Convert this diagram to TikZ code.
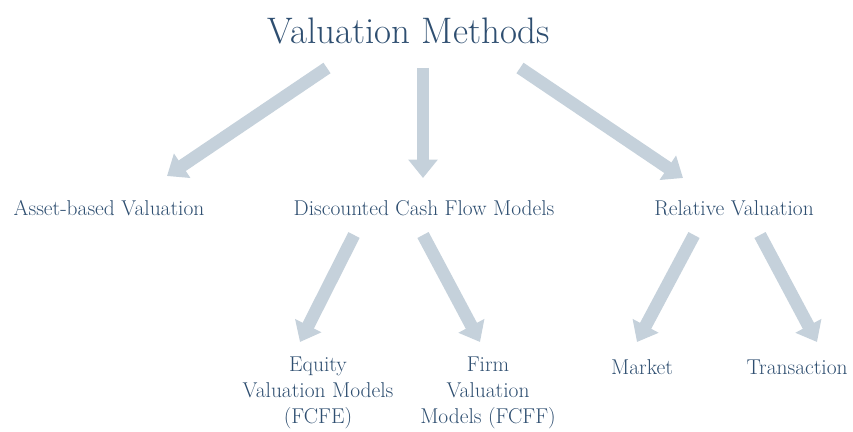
\documentclass[tikz,border=0pt]{standalone}
\usepackage{tikz}
\usepackage{xcolor}
\usetikzlibrary{arrows.meta,positioning}
\definecolor{navyink} {HTML}{2E4E70}
\definecolor{arrgrey} {HTML}{C5D1DB}
\tikzset{
  titletext/.style ={text=navyink, font=\fontsize{31.5}{36}\selectfont, inner sep=2pt},
  labeltext/.style ={text=navyink, font=\fontsize{18.3}{22}\selectfont,
                     align=center, inner sep=2pt},
  bigarr/.style    ={-{Triangle[length=0.55cm,width=0.85cm]}, line width=0.38cm,
                     color=arrgrey},
}
\begin{document}
\begin{tikzpicture}[x=0.03cm,y=-0.03cm]
  \useasboundingbox (0,0) rectangle (853,432);
  % labels
  \node[titletext] (title) at (409,31) {Valuation Methods};
  \node[labeltext] (asset) at (109,208) {Asset-based Valuation};
  \node[labeltext] (dcf)   at (424,208) {Discounted Cash Flow Models};
  \node[labeltext] (rel)   at (734,208) {Relative Valuation};
  \node[labeltext] (fcfe)  at (318,393) {Equity\\Valuation Models\\(FCFE)};
  \node[labeltext] (fcff)  at (488,393) {Firm\\Valuation\\Models (FCFF)};
  \node[labeltext] (mkt)   at (642,367) {Market};
  \node[labeltext] (trans) at (797,367) {Transaction};
  % arrow ends
  \coordinate (t1) at (327,68);  \coordinate (t2) at (423,68);  \coordinate (t3) at (520,68);
  \coordinate (a1) at (167,176); \coordinate (d1) at (423,178); \coordinate (r1) at (683,178);
  \coordinate (d2) at (354,235); \coordinate (d3) at (423,235);
  \coordinate (e1) at (300,342); \coordinate (f1) at (480,342);
  \coordinate (r2) at (694,235); \coordinate (r3) at (760,235);
  \coordinate (m1) at (637,342); \coordinate (x1) at (817,342);
  \draw[bigarr] (t1) -- (a1);
  \draw[bigarr] (t2) -- (d1);
  \draw[bigarr] (t3) -- (r1);
  \draw[bigarr] (d2) -- (e1);
  \draw[bigarr] (d3) -- (f1);
  \draw[bigarr] (r2) -- (m1);
  \draw[bigarr] (r3) -- (x1);
\end{tikzpicture}
\end{document}
